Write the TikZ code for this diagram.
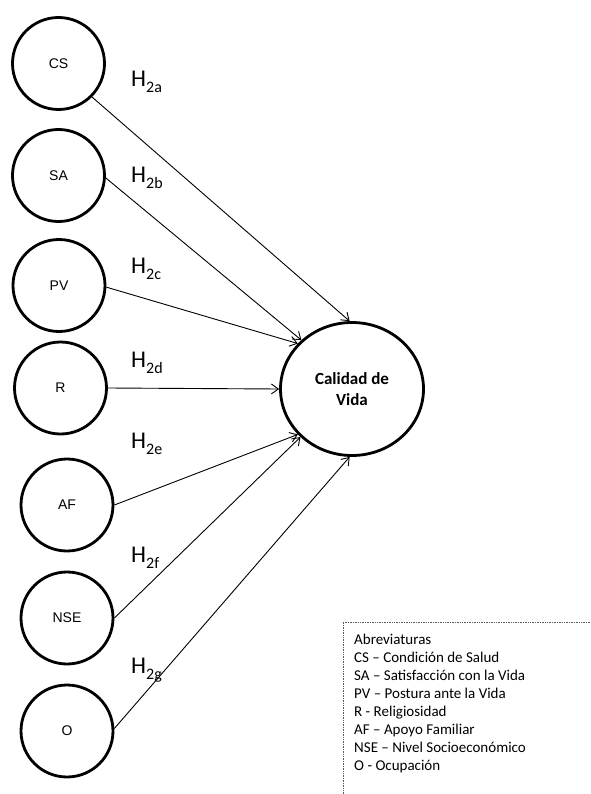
\documentclass[tikz,border=0pt]{standalone}
\usepackage{fontspec}
\setmainfont{Carlito}
\newfontfamily\arialf{Liberation Sans}
\usetikzlibrary{arrows.meta,shapes.geometric}

\tikzset{
  factor/.style={draw, circle, line width=2.8pt, minimum size=92pt, inner sep=0pt,
                 font=\arialf\fontsize{14}{14}\selectfont},
  outcome/.style={draw, ellipse, line width=2.8pt, minimum width=143pt, minimum height=133pt,
                  inner sep=0pt, align=center, font=\bfseries\fontsize{17}{20.5}\selectfont},
  path/.style={line width=0.9pt, -{Straight Barb[length=7pt,width=10pt,line width=0.9pt]}},
  hyp/.style={anchor=base west, inner sep=0pt, font=\fontsize{24}{24}\selectfont},
  legendline/.style={densely dotted, line width=0.7pt, black!65},
}
\newcommand{\hsub}[1]{H\raisebox{-6pt}{\fontsize{16}{16}\selectfont #1}}

\begin{document}
\begin{tikzpicture}[x=1pt, y=-1pt]
  \useasboundingbox (0,0) rectangle (590,794);

  % explanatory factors
  \node[factor] (cs)  at (58.5,63.5)  {CS};
  \node[factor] (sa)  at (58.5,175.5) {SA};
  \node[factor] (pv)  at (59,285.5)   {PV};
  \node[factor] (r)   at (60.5,388)   {R};
  \node[factor] (af)  at (67,505)     {AF};
  \node[factor] (nse) at (67,618)     {NSE};
  \node[factor] (o)   at (67,731)     {O};

  % outcome
  \node[outcome] (cv) at (352,389) {Calidad de\\Vida};

  % hypothesised paths
  \draw[path] (cs.-45) -- (cv.92);
  \draw[path] (sa.-3)  -- (cv.136);
  \draw[path] (pv.-2)  -- (cv.140);
  \draw[path] (r.east) -- (cv.180);
  \draw[path] (af.east) -- (cv.220);
  \draw[path] (nse.east) -- (cv.223);
  \draw[path] (o.3)    -- (cv.268);

  % hypothesis labels
  \node[hyp] (ha) at (131,87)  {\hsub{2a}};
  \node[hyp] (hb) at (131,183) {\hsub{2b}};
  \node[hyp] (hc) at (131,273) {\hsub{2c}};
  \node[hyp] (hd) at (131,367) {\hsub{2d}};
  \node[hyp] (he) at (131,448) {\hsub{2e}};
  \node[hyp] (hf) at (131,562) {\hsub{2f}};
  \node[hyp] (hg) at (131,673) {\hsub{2g}};

  % legend box (open towards the lower right)
  \coordinate (lgtl) at (343,622);
  \coordinate (lgtr) at (590,622);
  \coordinate (lgbl) at (343,794);
  \draw[legendline] (lgtr) -- (lgtl) -- (lgbl);
  % anchored on the baseline of its last line
  \node[anchor=base west, inner sep=0pt, align=left,
        font=\fontsize{15}{17.9}\selectfont] (legend) at (354,770)
    {Abreviaturas\\
     CS – Condición de Salud\\
     SA – Satisfacción con la Vida\\
     PV – Postura ante la Vida\\
     R - Religiosidad\\
     AF – Apoyo Familiar\\
     NSE – Nivel Socioeconómico\\
     O - Ocupación};
\end{tikzpicture}
\end{document}
